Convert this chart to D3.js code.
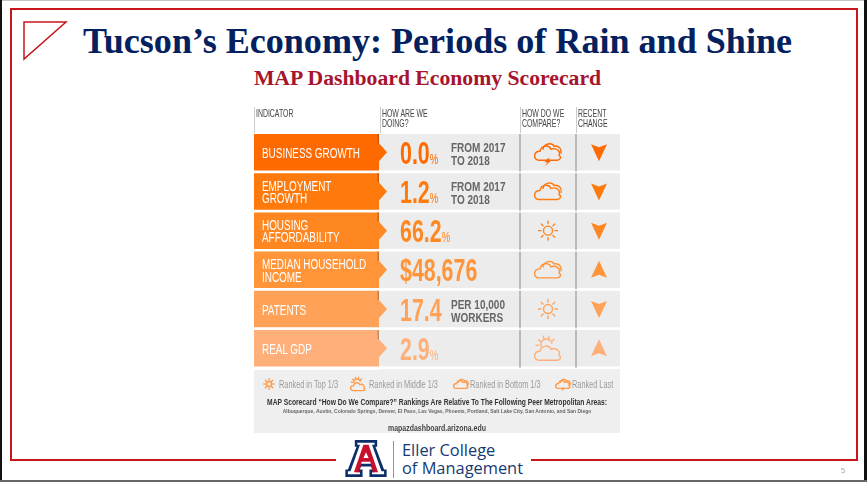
<!DOCTYPE html>
<html>
<head>
<meta charset="utf-8">
<script src="https://cdn.jsdelivr.net/npm/d3@7"></script>
<style>
  html, body { margin: 0; padding: 0; background: #fff; overflow: hidden; }
  svg { display: block; }
</style>
</head>
<body>
<script>
// chart values
var indicators = [["BUSINESS GROWTH"], ["EMPLOYMENT", "GROWTH"], ["HOUSING", "AFFORDABILITY"], ["MEDIAN HOUSEHOLD", "INCOME"], ["PATENTS"], ["REAL GDP"]];
var values = ["0.0", "1.2", "66.2", "$48,676", "17.4", "2.9"];
var units = ["%", "%", "%", "", "", "%"];
var notes = [["FROM 2017", "TO 2018"], ["FROM 2017", "TO 2018"], [], [], ["PER 10,000", "WORKERS"], []];
var compare = ["last", "bottom", "top", "bottom", "top", "middle"];
var change = ["down", "down", "down", "up", "down", "up"];
var headers = [["INDICATOR"], ["HOW ARE WE", "DOING?"], ["HOW DO WE", "COMPARE?"], ["RECENT", "CHANGE"]];
var legendKeys = ["top", "middle", "bottom", "last"];
var legendLabels = ["Ranked in Top 1/3", "Ranked in Middle 1/3", "Ranked in Bottom 1/3", "Ranked Last"];
var rowColors = ["#ff6a00", "#ff7a0c", "#ff8722", "#ff9538", "#ffa258", "#ffb07a"];

var width = 867, height = 482;
var svg = d3.select("body").append("svg").attr("width", width).attr("height", height);

// no condensed font installed, so squeeze Liberation Sans horizontally
function narrow(parent, x, y, squeeze, size, color, str, bold) {
  return parent.append("text")
      .attr("transform", "translate(" + x + "," + y + ") scale(" + squeeze + ",1)")
      .attr("font-family", "Liberation Sans")
      .attr("font-size", size)
      .attr("font-weight", bold ? "bold" : "normal")
      .attr("fill", color)
      .text(str);
}

// slide frame
svg.append("rect").attr("width", width).attr("height", height).attr("fill", "#fff");
svg.append("rect").attr("x", 0).attr("y", 0).attr("width", width).attr("height", 1).attr("fill", "#c4c4c4");
svg.append("rect").attr("x", 0).attr("y", 0).attr("width", 2).attr("height", height).attr("fill", "#111");
svg.append("rect").attr("x", 864).attr("y", 0).attr("width", 3).attr("height", height).attr("fill", "#111");
svg.append("rect").attr("x", 0).attr("y", 480).attr("width", width).attr("height", 2).attr("fill", "#666");
svg.append("path").attr("fill", "none").attr("stroke", "#c8161d").attr("stroke-width", 2)
    .attr("d", "M336,460H11V9H857V460H531");
svg.append("path").attr("fill", "none").attr("stroke", "#c8161d").attr("stroke-width", 1.5)
    .attr("d", "M24,22H66L24,59Z");

svg.append("text").attr("x", 437.5).attr("y", 53).attr("text-anchor", "middle")
    .attr("font-family", "Liberation Serif").attr("font-weight", "bold").attr("font-size", 36.1)
    .attr("fill", "#03205f").text("Tucson\u2019s Economy: Periods of Rain and Shine");
svg.append("text").attr("x", 427.5).attr("y", 85).attr("text-anchor", "middle")
    .attr("font-family", "Liberation Serif").attr("font-weight", "bold").attr("font-size", 21.7)
    .attr("fill", "#a6142e").text("MAP Dashboard Economy Scorecard");
svg.append("text").attr("x", 843).attr("y", 473).attr("text-anchor", "middle")
    .attr("font-family", "Liberation Sans").attr("font-size", 8).attr("fill", "#aaa").text("5");

// soft filter, the scorecard is a scaled bitmap in the original
var defs = svg.append("defs");
defs.append("filter").attr("id", "soft").append("feGaussianBlur").attr("stdDeviation", 0.35);

var card = svg.append("g").attr("filter", "url(#soft)");

var y = d3.scaleBand().domain(d3.range(6)).range([134, 366.5]).paddingInner(0.07).paddingOuter(0);
var col = {label: 254, value: 379, compare: 521, change: 577, end: 620};

// grey panels
card.append("rect").attr("x", col.value).attr("y", 134).attr("width", col.end - col.value).attr("height", 236).attr("fill", "#ececec");
card.append("rect").attr("x", col.label).attr("y", 370).attr("width", col.end - col.label).attr("height", 63).attr("fill", "#efefef");

// header
var headerX = [col.label, col.value + 1, col.compare - 1, col.change - 1];
headers.forEach(function(lines, i) {
  card.append("line").attr("x1", headerX[i] + .5).attr("x2", headerX[i] + .5).attr("y1", 107).attr("y2", 133).attr("stroke", "#ccc");
  lines.forEach(function(t, j) {
    narrow(card, headerX[i] + 2, 117 + j * 10, 0.66, 10.5, "#444", t);
  });
});

var rows = card.selectAll(".row").data(d3.range(6)).enter().append("g").attr("class", "row")
    .attr("transform", function(i) { return "translate(0," + y(i) + ")"; });
var h = y.bandwidth();

// white row gaps + cell dividers
rows.append("rect").attr("x", col.value).attr("y", h).attr("width", col.end - col.value).attr("height", y.step() - h).attr("fill", "#fff");
rows.append("rect").attr("x", col.compare - 2).attr("y", 0).attr("width", 2).attr("height", h + 1).attr("fill", "#b9b9b9");
rows.append("rect").attr("x", col.change - 2).attr("y", 0).attr("width", 2).attr("height", h + 1).attr("fill", "#b9b9b9");

// indicator bars with arrow tip
rows.append("path")
    .attr("d", "M" + col.label + ",0H" + col.value + "V" + (h / 2 - 9) + "L" + (col.value + 8) + "," + (h / 2) + "L" + col.value + "," + (h / 2 + 9) + "V" + h + "H" + col.label + "Z")
    .attr("fill", function(i) { return rowColors[i]; });
rows.append("rect").attr("x", col.value - 1.5).attr("y", 0).attr("width", 1.5).attr("height", h / 2 - 9)
    .attr("fill", function(i) { return d3.color(rowColors[i]).darker(0.7); });

rows.each(function(i) {
  var row = d3.select(this), lines = indicators[i];
  lines.forEach(function(t, j) {
    narrow(row, 262, h / 2 + 5.5 + (j - (lines.length - 1) / 2) * 12.5, 0.64, 15.5, "#fff", t);
  });
  var val = narrow(row, 400, h / 2 + 11.5, 0.69, 31, rowColors[i], values[i], true);
  val.append("tspan").attr("font-size", 14).attr("font-weight", "normal").text(units[i]);
  notes[i].forEach(function(t, j) {
    narrow(row, 451, h / 2 + j * 12.5, 0.77, 13, "#666", t, true);
  });
  drawIcon(row.append("g").attr("transform", "translate(548," + (h / 2) + ")"), compare[i], rowColors[i], 1);
  row.append("path").attr("transform", "translate(599," + (h / 2) + ")")
      .attr("d", change[i] == "down" ? "M-8,-8L0,-5L8,-8L0,9Z" : "M-8,8L0,5L8,8L0,-9Z")
      .attr("fill", rowColors[i]);
});

function drawIcon(g, kind, color, s) {
  var cloud = "M-9,8C-15,8 -15,-1 -8,-1C-7,-7 1,-8 3,-3C8,-5 13,-1 11,3C14,5 12,8 9,8Z";
  var back = "M-5,-3C-4,-9 4,-10 6,-6C11,-7 14,-3 13,1";
  var sw = 1.4 / s;
  g = g.append("g").attr("transform", "scale(" + s + ")");
  function line(d) { g.append("path").attr("d", d).attr("fill", "none").attr("stroke", color).attr("stroke-width", sw).attr("stroke-linecap", "round"); }
  if (kind == "top") {
    g.append("circle").attr("r", 4.5).attr("fill", "none").attr("stroke", color).attr("stroke-width", sw);
    d3.range(8).forEach(function(k) {
      var a = k * Math.PI / 4;
      line("M" + 7 * Math.cos(a) + "," + 7 * Math.sin(a) + "L" + 9.5 * Math.cos(a) + "," + 9.5 * Math.sin(a));
    });
  } else if (kind == "middle") {
    line("M-7,-2A5.5,5.5 0 0 1 4,-5");
    d3.range(5).forEach(function(k) {
      var a = Math.PI + (k + .2) * Math.PI / 5.5;
      line("M" + (-1.5 + 8 * Math.cos(a)) + "," + (-2 + 8 * Math.sin(a)) + "L" + (-1.5 + 10.5 * Math.cos(a)) + "," + (-2 + 10.5 * Math.sin(a)));
    });
    g.append("path").attr("transform", "translate(0,4)").attr("d", cloud).attr("fill", "none").attr("stroke", color).attr("stroke-width", sw);
  } else {
    line(back);
    line(cloud);
    if (kind == "last") {
      g.append("path").attr("d", "M0,6L-3.5,10H-.5L-3,14L3,8.5H0L2,6Z").attr("fill", color);
    }
  }
}

// legend
var legendIcon = d3.scaleOrdinal().domain(legendKeys).range([269, 358, 461, 563]);
var legendText = d3.scaleOrdinal().domain(legendKeys).range([279, 369, 470, 572]);
legendKeys.forEach(function(k, i) {
  drawIcon(card.append("g").attr("transform", "translate(" + legendIcon(k) + ",384)"), k, "#ff9a4a", 0.55);
  narrow(card, legendText(k), 388, 0.7, 10.5, "#9a9a9a", legendLabels[i]);
});

narrow(card, 437, 405, 0.73, 9.2, "#333", "MAP Scorecard \u201CHow Do We Compare?\u201D Rankings Are Relative To The Following Peer Metropolitan Areas:", true).attr("text-anchor", "middle");
narrow(card, 437, 412.5, 0.8, 6.2, "#666", "Albuquerque, Austin, Colorado Springs, Denver, El Paso, Las Vegas, Phoenix, Portland, Salt Lake City, San Antonio, and San Diego", true).attr("text-anchor", "middle");
narrow(card, 437, 431, 0.82, 8.5, "#444", "mapazdashboard.arizona.edu", true).attr("text-anchor", "middle");

// logo
var logo = svg.append("g").attr("transform", "translate(366,459) scale(.86,.95)");
logo.append("path").attr("fill", "#0c2f6b")
    .attr("d", "M-13,-20H13V-13H11L21,11H24V19H4V11H7L6,8H-6L-7,11H-4V19H-24V11H-21L-11,-13H-13Z");
logo.append("path").attr("fill", "#fff")
    .attr("d", "M-10,-17H10V-15H7L18,13H21V16H7V14H10L8,5H-8L-10,14H-7V16H-21V13H-18L-7,-15H-10Z");
logo.append("path").attr("fill", "#c8102e")
    .attr("d", "M-3,-15H3L14,14H8L5,3H-5L-8,14H-14ZM0,-7L-3,-1H3Z");
svg.append("line").attr("x1", 393.5).attr("x2", 393.5).attr("y1", 441).attr("y2", 478).attr("stroke", "#7f93b2");
svg.append("text").attr("x", 402).attr("y", 456).attr("font-family", "Open Sans").attr("font-size", 16.4).attr("fill", "#163a72").text("Eller College");
svg.append("text").attr("x", 402).attr("y", 474).attr("font-family", "Open Sans").attr("font-size", 16.4).attr("fill", "#163a72").text("of Management");
</script>
</body>
</html>
